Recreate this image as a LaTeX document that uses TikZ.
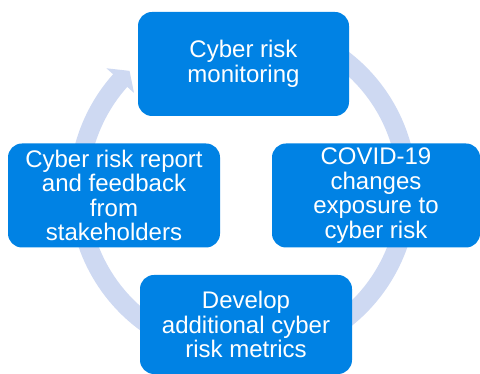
\documentclass[tikz,border=0pt]{standalone}
\usepackage{fontspec}
\setmainfont{Liberation Sans}
\usetikzlibrary{calc}
\definecolor{boxblue}{RGB}{0,130,228}
\definecolor{ringblue}{RGB}{206,217,242}
\tikzset{
  stepbox/.style={draw=none, fill=boxblue, rounded corners=14pt, text=white,
    align=center, inner sep=0pt, font=\fontsize{24}{24.5}\selectfont},
}
\begin{document}
\begin{tikzpicture}[x=1pt,y=1pt]
\useasboundingbox (0,0) rectangle (480,374);
\coordinate (c) at (243,184);
% ring with arrowhead
\draw[ringblue, line width=19pt] ($(c)+(60:164.5)$) arc[start angle=60, end angle=-222, radius=164.5];
\fill[ringblue] ($(c)+(138.3:183)$) -- ($(c)+(133.6:164.5)$) -- ($(c)+(138.3:146)$) -- cycle;
% boxes
\node[stepbox, minimum width=211pt, minimum height=104pt] (top) at (243.5,310) {Cyber risk\\monitoring};
\node[stepbox, minimum width=208pt, minimum height=104pt] (right) at (376,178.5) {COVID-19\\changes\\exposure to\\cyber risk};
\node[stepbox, minimum width=212pt, minimum height=99pt] (bottom) at (246,49.5) {Develop\\additional cyber\\risk metrics};
\node[stepbox, minimum width=212pt, minimum height=104pt] (left) at (114,178.5) {Cyber risk report\\and feedback\\from\\stakeholders};
\end{tikzpicture}
\end{document}
